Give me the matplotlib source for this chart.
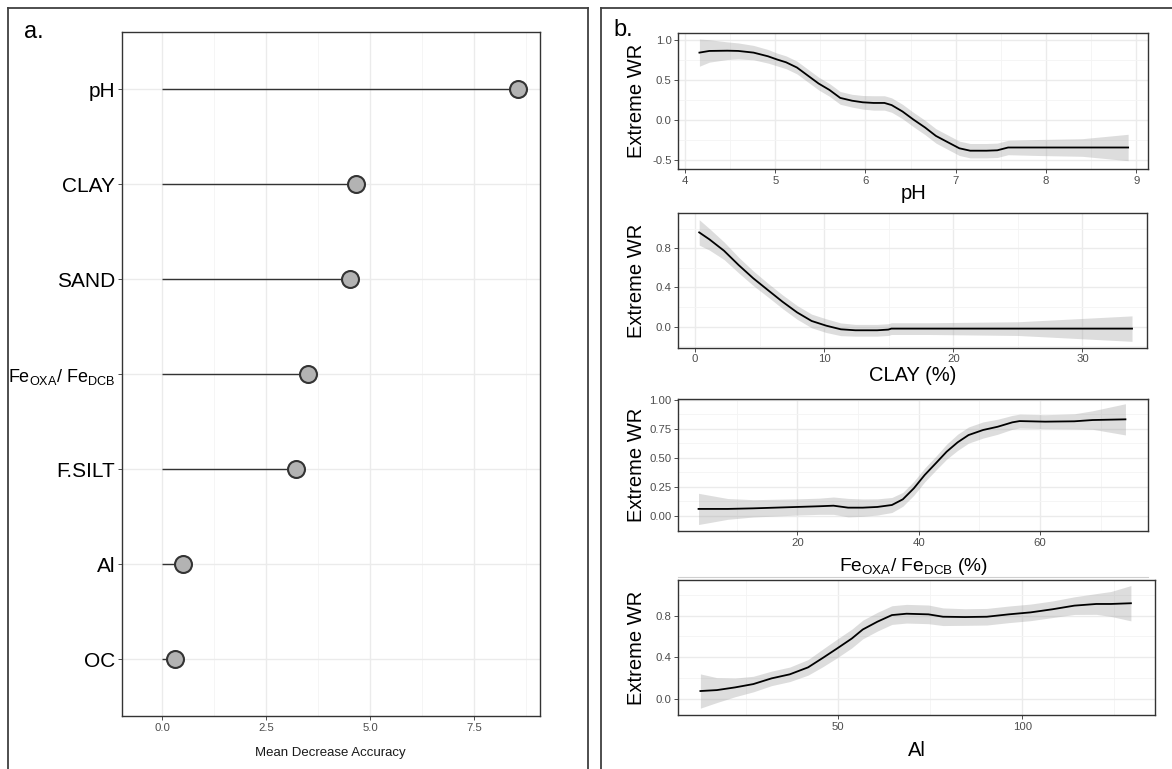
import numpy as np
import matplotlib
matplotlib.use("Agg")
import matplotlib.pyplot as plt
from matplotlib.lines import Line2D

plt.rcParams['font.family'] = ['Liberation Sans', 'DejaVu Sans']
plt.rcParams['mathtext.fontset'] = 'custom'
plt.rcParams['mathtext.rm'] = 'Liberation Sans'
plt.rcParams['mathtext.it'] = 'Liberation Sans'

# ---------------- data ----------------
variables = ['OC', 'Al', 'F.SILT', r'Fe$_{\mathrm{OXA}}$/ Fe$_{\mathrm{DCB}}$', 'SAND', 'CLAY', 'pH']
importance = [0.31, 0.50, 3.21, 3.49, 4.51, 4.66, 8.56]
imp_ticks = [0.0, 2.5, 5.0, 7.5]

ph_x = [4.16, 4.27, 4.47, 4.59, 4.76, 4.92, 5.02, 5.12, 5.24, 5.36, 5.48, 5.60, 5.72, 5.85, 5.97,
        6.09, 6.21, 6.29, 6.41, 6.53, 6.66, 6.78, 6.90, 7.04, 7.16, 7.34, 7.46, 7.58, 7.91, 8.4, 8.91]
ph_y = [0.846, 0.867, 0.87, 0.867, 0.846, 0.80, 0.76, 0.725, 0.66, 0.56, 0.46, 0.38, 0.28, 0.245, 0.225,
        0.217, 0.217, 0.19, 0.11, 0.01, -0.09, -0.195, -0.267, -0.35, -0.38, -0.38, -0.375, -0.34, -0.34, -0.34, -0.34]
ph_se = [0.17, 0.14, 0.11, 0.10, 0.09, 0.085, 0.08, 0.08, 0.08, 0.08, 0.08, 0.08, 0.08, 0.08, 0.085,
         0.09, 0.09, 0.09, 0.09, 0.09, 0.09, 0.09, 0.09, 0.09, 0.09, 0.09, 0.09, 0.09, 0.10, 0.11, 0.165]

clay_x = [0.31, 1.10, 2.23, 3.36, 4.50, 5.63, 6.76, 7.89, 9.02, 10.15, 11.28, 12.41, 14.1, 14.96, 15.2, 18.07, 25.0, 33.84]
clay_y = [0.963, 0.892, 0.776, 0.63, 0.494, 0.374, 0.255, 0.146, 0.058, 0.01, -0.027, -0.037, -0.037, -0.03, -0.02, -0.02, -0.02, -0.02]
clay_se = [0.13, 0.11, 0.09, 0.08, 0.075, 0.07, 0.07, 0.07, 0.07, 0.07, 0.065, 0.06, 0.06, 0.06, 0.06, 0.06, 0.07, 0.13]

fe_x = [3.70, 8.51, 12.72, 19.94, 23.55, 25.95, 28.36, 30.77, 33.17, 35.58, 37.38, 39.19, 40.99, 42.80, 44.60,
        46.41, 48.21, 50.62, 53.02, 55.43, 56.63, 60.84, 65.65, 68.66, 74.08]
fe_y = [0.058, 0.058, 0.063, 0.075, 0.081, 0.086, 0.069, 0.069, 0.075, 0.092, 0.141, 0.236, 0.352, 0.452, 0.553,
        0.634, 0.697, 0.741, 0.769, 0.807, 0.818, 0.813, 0.816, 0.827, 0.833]
fe_se = [0.135, 0.09, 0.075, 0.07, 0.07, 0.075, 0.08, 0.075, 0.07, 0.065, 0.06, 0.06, 0.06, 0.06, 0.065,
         0.07, 0.07, 0.07, 0.065, 0.06, 0.06, 0.06, 0.065, 0.08, 0.135]

al_x = [12.67, 17.13, 22.08, 27.03, 31.98, 36.93, 41.88, 45.84, 49.80, 53.76, 56.73, 60.69, 64.65, 68.61, 74.55,
        78.51, 84.46, 90.40, 96.34, 102.28, 108.22, 114.16, 120.10, 124.06, 129.50]
al_y = [0.074, 0.083, 0.109, 0.141, 0.196, 0.235, 0.302, 0.392, 0.485, 0.58, 0.667, 0.742, 0.806, 0.819, 0.813,
        0.79, 0.787, 0.79, 0.813, 0.832, 0.862, 0.897, 0.913, 0.913, 0.92]
al_se = [0.165, 0.12, 0.09, 0.075, 0.07, 0.07, 0.075, 0.085, 0.09, 0.09, 0.09, 0.09, 0.09, 0.09, 0.09,
         0.085, 0.08, 0.08, 0.08, 0.08, 0.08, 0.085, 0.10, 0.12, 0.17]

# ---------------- figure ----------------
W, H = 1172, 769
fig = plt.figure(figsize=(W / 100, H / 100), dpi=100)

def px_axes(x0, x1, y0, y1):
    return fig.add_axes([x0 / W, 1 - y1 / H, (x1 - x0) / W, (y1 - y0) / H])

def fig_line(xs, ys, **kw):
    fig.add_artist(Line2D([x / W for x in xs], [1 - y / H for y in ys],
                          transform=fig.transFigure, **kw))

TICKC = '#4d4d4d'
GRID = '#ebebeb'
GRIDMIN = '#f4f4f4'
BORDER = '#333333'

def style(ax, xmaj, xmin, ymaj, ymin, xlim, ylim, tsize=8.2):
    ax.set_xlim(*xlim)
    ax.set_ylim(*ylim)
    ax.set_xticks(xmaj)
    ax.set_xticks(xmin, minor=True)
    ax.set_yticks(ymaj)
    ax.set_yticks(ymin, minor=True)
    ax.grid(True, which='major', color=GRID, lw=1.0, zorder=0)
    ax.grid(True, which='minor', color=GRIDMIN, lw=0.6, zorder=0)
    ax.set_axisbelow(True)
    for s in ax.spines.values():
        s.set_color(BORDER)
        s.set_linewidth(1.0)
    ax.tick_params(which='major', length=2.8, width=0.6, color=BORDER,
                   labelsize=tsize, labelcolor=TICKC, pad=2)
    ax.tick_params(which='minor', length=0)

# ---------------- left panel ----------------
axL = px_axes(121.7, 539.6, 32.3, 716)
pos = np.arange(1, len(variables) + 1)
style(axL, imp_ticks, [1.25, 3.75, 6.25, 8.75], pos, [], (-0.98, 9.07), (0.4, len(variables) + 0.6))
axL.set_xticklabels([f'{t:.1f}' for t in imp_ticks])
axL.set_yticklabels(variables, color='black')
axL.tick_params(axis='y', which='major', labelsize=15, labelcolor='black')
for lab in axL.get_yticklabels():
    if 'Fe' in lab.get_text():
        lab.set_fontsize(13)
axL.hlines(pos, 0, importance, color='#333333', lw=1.0, zorder=2)
axL.plot(importance, pos, 'o', ms=12.2, mfc='#b3b3b3', mec='#333333', mew=1.5, zorder=3)
axL.set_xlabel('Mean Decrease Accuracy', fontsize=9.5, color='#1a1a1a', labelpad=10)

# ---------------- right panels ----------------
panels = [
    dict(box=(678.4, 1148, 32.7, 169.3), x=ph_x, y=ph_y, se=ph_se,
         xmaj=[4, 5, 6, 7, 8, 9], xmin=[4.5, 5.5, 6.5, 7.5, 8.5],
         ymaj=[-0.5, 0.0, 0.5, 1.0], ymin=[-0.25, 0.25, 0.75],
         xlim=(3.927, 9.13), ylim=(-0.6125, 1.095), yfmt='{:.1f}', xlab='pH', xlab_y=199, xs=14.5),
    dict(box=(678.4, 1147, 213.3, 347.7), x=clay_x, y=clay_y, se=clay_se,
         xmaj=[0, 10, 20, 30], xmin=[5, 15, 25],
         ymaj=[0.0, 0.4, 0.8], ymin=[-0.2, 0.2, 0.6, 1.0],
         xlim=(-1.3, 35.0), ylim=(-0.215, 1.158), yfmt='{:.1f}', xlab='CLAY (%)', xlab_y=381, xs=14.5),
    dict(box=(678.4, 1148, 399, 531), x=fe_x, y=fe_y, se=fe_se,
         xmaj=[20, 40, 60], xmin=[10, 30, 50, 70],
         ymaj=[0.0, 0.25, 0.5, 0.75, 1.0], ymin=[0.125, 0.375, 0.625, 0.875],
         xlim=(0.38, 77.8), ylim=(-0.133, 1.009), yfmt='{:.2f}',
         xlab=r'Fe$_{\mathrm{OXA}}$/ Fe$_{\mathrm{DCB}}$ (%)', xlab_y=571, xs=13.8),
    dict(box=(678.4, 1154.5, 580, 715), x=al_x, y=al_y, se=al_se,
         xmaj=[50, 100], xmin=[25, 75, 125],
         ymaj=[0.0, 0.4, 0.8], ymin=[0.2, 0.6, 1.0],
         xlim=(6.7, 135.9), ylim=(-0.157, 1.144), yfmt='{:.1f}', xlab='Al', xlab_y=756, xs=14.5),
]

for p in panels:
    x0, x1, y0, y1 = p['box']
    ax = px_axes(x0, x1, y0, y1)
    style(ax, p['xmaj'], p['xmin'], p['ymaj'], p['ymin'], p['xlim'], p['ylim'])
    ax.set_xticklabels([f'{t:g}' for t in p['xmaj']])
    ax.set_yticklabels([p['yfmt'].format(t) for t in p['ymaj']])
    xs = np.array(p['x']); ys = np.array(p['y']); se = np.array(p['se'])
    ax.fill_between(xs, ys - se, ys + se, color='#999999', alpha=0.33, lw=0, zorder=1)
    ax.plot(xs, ys, color='black', lw=1.3, zorder=2)
    fig.text(636.7 / W, 1 - ((y0 + y1) / 2) / H, 'Extreme WR', rotation=90,
             ha='center', va='center', fontsize=14.5)
    fig.text(((x0 + x1) / 2) / W, 1 - p['xlab_y'] / H, p['xlab'], ha='center',
             va='baseline', fontsize=p['xs'])

# faint separator line under third panel
fig_line([678.4, 1148], [577, 577], color='#cfcfcf', lw=0.8)

# ---------------- panel labels and frames ----------------
fig.text(24 / W, 1 - 37.5 / H, 'a.', fontsize=17, va='baseline', ha='left')
fig.text(613 / W, 1 - 36.5 / H, 'b.', fontsize=17, va='baseline', ha='left')

fig_line([8, 8], [769, 8.3], color='#404040', lw=1.3)
fig_line([8, 588.5], [8.3, 8.3], color='#404040', lw=1.3)
fig_line([588.5, 588.5], [8.3, 769], color='#404040', lw=1.3)
fig_line([600.5, 600.5], [769, 8.3], color='#404040', lw=1.3)
fig_line([600.5, 1172], [8.3, 8.3], color='#404040', lw=1.3)

fig.savefig('out.png', dpi=100, facecolor='white')
